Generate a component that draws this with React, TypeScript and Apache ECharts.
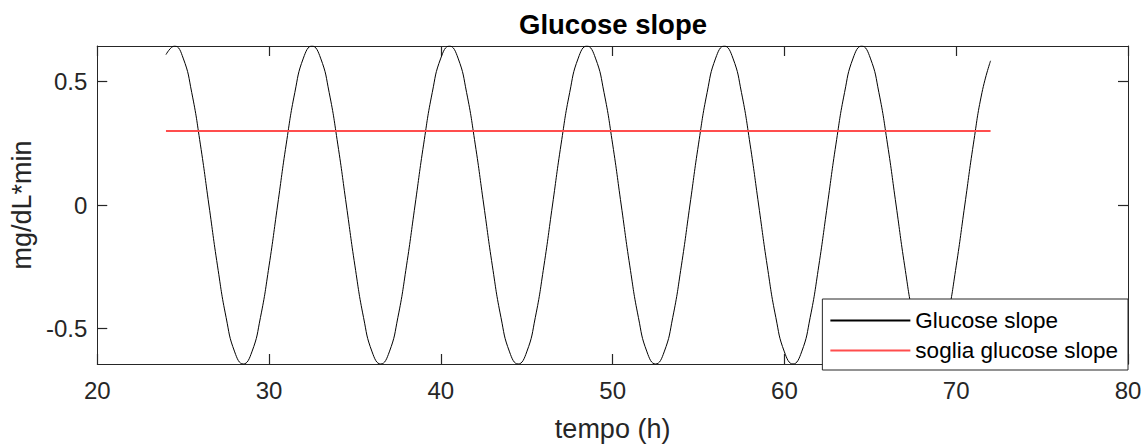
import React, { useEffect, useRef } from "react";
import * as echarts from "echarts";

// Time axis (hours) and the glucose slope sampled every half hour
const hours = [
  24, 24.5, 25, 25.5, 26, 26.5, 27, 27.5, 28, 28.5, 29, 29.5, 30, 30.5, 31, 31.5,
  32, 32.5, 33, 33.5, 34, 34.5, 35, 35.5, 36, 36.5, 37, 37.5, 38, 38.5, 39, 39.5,
  40, 40.5, 41, 41.5, 42, 42.5, 43, 43.5, 44, 44.5, 45, 45.5, 46, 46.5, 47, 47.5,
  48, 48.5, 49, 49.5, 50, 50.5, 51, 51.5, 52, 52.5, 53, 53.5, 54, 54.5, 55, 55.5,
  56, 56.5, 57, 57.5, 58, 58.5, 59, 59.5, 60, 60.5, 61, 61.5, 62, 62.5, 63, 63.5,
  64, 64.5, 65, 65.5, 66, 66.5, 67, 67.5, 68, 68.5, 69, 69.5, 70, 70.5, 71, 71.5,
  72,
];

const glucoseSlope = [
  0.61, 0.645, 0.596, 0.456, 0.247, 0, -0.247, -0.456, -0.596, -0.645, -0.596, -0.456, -0.247, 0, 0.247, 0.456,
  0.596, 0.645, 0.596, 0.456, 0.247, 0, -0.247, -0.456, -0.596, -0.645, -0.596, -0.456, -0.247, 0, 0.247, 0.456,
  0.596, 0.645, 0.596, 0.456, 0.247, 0, -0.247, -0.456, -0.596, -0.645, -0.596, -0.456, -0.247, 0, 0.247, 0.456,
  0.596, 0.645, 0.596, 0.456, 0.247, 0, -0.247, -0.456, -0.596, -0.645, -0.596, -0.456, -0.247, 0, 0.247, 0.456,
  0.596, 0.645, 0.596, 0.456, 0.247, 0, -0.247, -0.456, -0.596, -0.645, -0.596, -0.456, -0.247, 0, 0.247, 0.456,
  0.596, 0.645, 0.596, 0.456, 0.247, 0, -0.247, -0.456, -0.596, -0.645, -0.596, -0.456, -0.247, 0, 0.247, 0.456,
  0.585,
];

// Threshold line
const thresholdHours = [24, 72];
const thresholdValues = [0.3, 0.3];

const xTicks = [20, 30, 40, 50, 60, 70, 80];
const yTicks = [-0.5, 0, 0.5];

const FONT = "'Liberation Sans', Arial, Helvetica, sans-serif";
const AXIS_COLOR = "#262626";
const SLOPE_COLOR = "#000000";
const THRESHOLD_COLOR = "#ff4d4d";

export default function App() {
  const ref = useRef<HTMLDivElement>(null);

  useEffect(() => {
    if (!ref.current) return;
    const chart = echarts.init(ref.current, undefined, { renderer: "svg" });

    const slopeData = hours.map((h, i) => [h, glucoseSlope[i]]);
    const thresholdData = thresholdHours.map((h, i) => [h, thresholdValues[i]]);

    const axisLine = { show: true, onZero: false, lineStyle: { color: AXIS_COLOR, width: 1 } };
    const xTick = { show: true, inside: true, length: 10, customValues: xTicks, lineStyle: { color: AXIS_COLOR, width: 1.2 } };
    const yTick = { show: true, inside: true, length: 10, customValues: yTicks, lineStyle: { color: AXIS_COLOR, width: 1.2 } };

    chart.setOption({
      animation: false,
      backgroundColor: "#ffffff",
      textStyle: { fontFamily: FONT },
      title: {
        text: "Glucose slope",
        left: 613,
        textAlign: "center",
        top: 10,
        padding: 0,
        textStyle: { fontFamily: FONT, fontSize: 27.5, fontWeight: "bold", color: "#000" },
      },
      grid: { left: 97, right: 18, top: 46, bottom: 77, containLabel: false },
      legend: {
        orient: "vertical",
        right: 18,
        bottom: 77,
        backgroundColor: "#ffffff",
        borderColor: AXIS_COLOR,
        borderWidth: 1,
        borderRadius: 0,
        padding: [10, 10, 8, 8],
        itemGap: 7,
        itemWidth: 80,
        itemHeight: 2,
        textStyle: { fontFamily: FONT, fontSize: 22.5, color: "#000" },
        data: [
          { name: "Glucose slope", icon: "rect", itemStyle: { color: SLOPE_COLOR } },
          { name: "soglia glucose slope", icon: "rect", itemStyle: { color: THRESHOLD_COLOR } },
        ],
      },
      xAxis: [
        {
          type: "value",
          min: 20,
          max: 80,
          interval: 10,
          position: "bottom",
          name: "tempo (h)",
          nameLocation: "middle",
          nameGap: 51,
          nameTextStyle: { fontFamily: FONT, fontSize: 27, color: AXIS_COLOR },
          axisLine,
          axisTick: xTick,
          splitLine: { show: false },
          axisLabel: {
            fontFamily: FONT,
            fontSize: 24,
            color: AXIS_COLOR,
            margin: 14,
            customValues: xTicks,
          },
        },
        {
          type: "value",
          min: 20,
          max: 80,
          interval: 10,
          position: "top",
          axisLine,
          axisTick: xTick,
          axisLabel: { show: false },
          splitLine: { show: false },
        },
      ],
      yAxis: [
        {
          type: "value",
          min: -0.645,
          max: 0.645,
          position: "left",
          name: "mg/dL*min",
          nameLocation: "middle",
          nameGap: 57,
          nameTextStyle: { fontFamily: FONT, fontSize: 27, color: AXIS_COLOR },
          axisLine,
          axisTick: yTick,
          splitLine: { show: false },
          axisLabel: {
            fontFamily: FONT,
            fontSize: 24,
            color: AXIS_COLOR,
            margin: 10,
            customValues: yTicks,
            formatter: (v: number) => String(v),
          },
        },
        {
          type: "value",
          min: -0.645,
          max: 0.645,
          position: "right",
          axisLine,
          axisTick: yTick,
          axisLabel: { show: false },
          splitLine: { show: false },
        },
      ],
      series: [
        {
          name: "Glucose slope",
          type: "line",
          data: slopeData,
          symbol: "none",
          smooth: 0.5,
          lineStyle: { color: SLOPE_COLOR, width: 1 },
          itemStyle: { color: SLOPE_COLOR },
          clip: true,
        },
        {
          name: "soglia glucose slope",
          type: "line",
          data: thresholdData,
          symbol: "none",
          lineStyle: { color: THRESHOLD_COLOR, width: 2 },
          itemStyle: { color: THRESHOLD_COLOR },
        },
      ],
    });

    return () => chart.dispose();
  }, []);

  return (
    <div
      ref={ref}
      style={{ position: "fixed", left: 0, top: 0, width: 1146, height: 447 }}
    />
  );
}
